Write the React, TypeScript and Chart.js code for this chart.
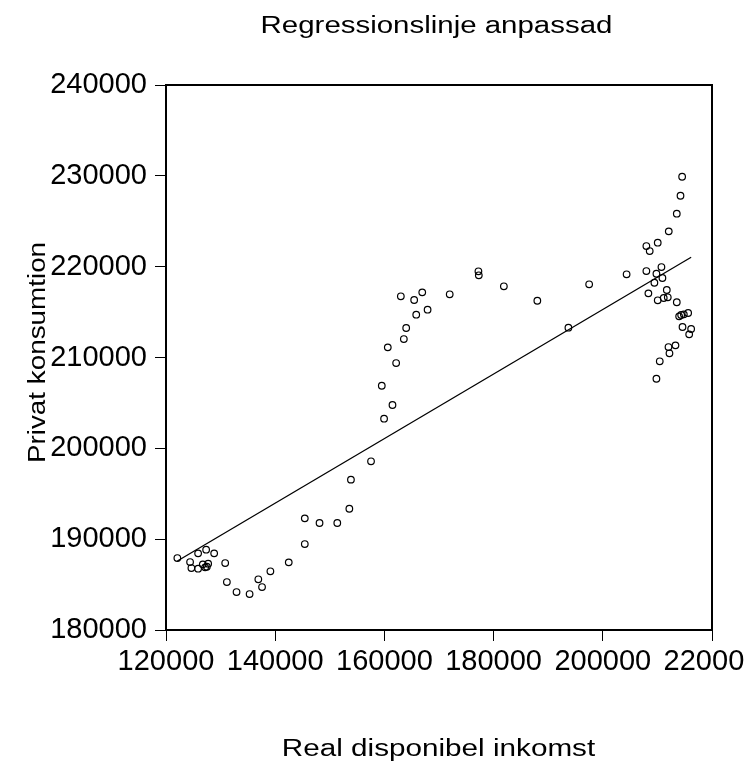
import React, { useEffect, useRef } from "react";
import { Chart, registerables } from "chart.js";

Chart.register(...registerables);

const TITLE = "Regressionslinje anpassad";
const X_TITLE = "Real disponibel inkomst";
const Y_TITLE = "Privat konsumtion";

const X_MIN = 120000;
const X_MAX = 220000;
const X_STEP = 20000;
const Y_MIN = 180000;
const Y_MAX = 240000;
const Y_STEP = 10000;

// Real disponibel inkomst
const incomeValues = [
  122080, 124410, 124650, 125880, 125880, 127350, 126740, 127720, 127170, 127480,
  128820, 130840, 131150, 132920, 135310, 136910, 137590, 139120, 142480, 145420,
  145420, 148120, 151370, 153580, 153870, 157550, 159940, 159520, 161480, 162150,
  160620, 163560, 163990, 165830, 163010, 165450, 166930, 167910, 171960, 177220,
  177290, 181880, 188010, 193700, 197500, 204360, 207980, 208590, 210060, 212080,
  213550, 214230, 214530, 207980, 209820, 210740, 210920, 209450, 208350, 211720,
  210060, 211160, 211900, 213550, 213980, 214350, 214840, 215630, 214600, 216180,
  215820, 213310, 212030, 212210, 210430, 209820,
];

// Privat konsumtion
const consumptionValues = [
  187920, 187480, 186820, 188440, 186750, 188840, 187230, 187300, 186900, 186970,
  188440, 187370, 185280, 184180, 183960, 185580, 184730, 186460, 187450, 192290,
  189460, 191780, 191780, 193350, 196550, 198570, 203260, 206890, 204770, 209390,
  211120, 212030, 213250, 214710, 216740, 216330, 217170, 215260, 216960, 219490,
  219050, 217840, 216250, 213280, 218060, 219160, 222270, 221720, 222640, 223890,
  225830, 227810, 229900, 219520, 219220, 219960, 218750, 218230, 217060, 217430,
  216300, 216550, 216630, 216080, 214530, 214680, 214750, 214900, 213360, 213140,
  212550, 211340, 211150, 210460, 209580, 207660,
];

// Fitted regression line end points
const fitX = [122080, 216180];
const fitY = [187590, 221030];

const FONT = '"Liberation Sans", Arial, Helvetica, sans-serif';

const titlesPlugin = {
  id: "stretchedTitles",
  afterDraw(chart: any) {
    const ctx = chart.ctx;
    const { left, right, top, bottom } = chart.chartArea;
    const cx = (left + right) / 2;
    ctx.save();
    ctx.fillStyle = "#000";
    ctx.font = `23px ${FONT}`;
    ctx.textAlign = "center";
    ctx.textBaseline = "alphabetic";

    ctx.save();
    ctx.translate(cx - 2.5, top - 51.7);
    ctx.scale(1.28, 1);
    ctx.fillText(TITLE, 0, 0);
    ctx.restore();

    ctx.save();
    ctx.translate(cx - 0.5, bottom + 126);
    ctx.scale(1.29, 1);
    ctx.fillText(X_TITLE, 0, 0);
    ctx.restore();

    ctx.save();
    ctx.translate(45, (top + bottom) / 2 - 5);
    ctx.rotate(-Math.PI / 2);
    ctx.scale(1.21, 1);
    ctx.fillText(Y_TITLE, 0, 0);
    ctx.restore();

    // frame
    ctx.strokeStyle = "#000";
    ctx.lineWidth = 2;
    ctx.strokeRect(left, top, right - left, bottom - top);
    ctx.restore();
  },
};

export default function App() {
  const ref = useRef<HTMLCanvasElement | null>(null);

  useEffect(() => {
    document.body.style.margin = "0";
    const canvas = ref.current;
    if (!canvas) return;
    const points = incomeValues.map((x, i) => ({ x, y: consumptionValues[i] }));
    const line = fitX.map((x, i) => ({ x, y: fitY[i] }));
    const chart = new Chart(canvas, {
      type: "scatter",
      data: {
        datasets: [
          {
            data: points,
            pointStyle: "circle",
            pointRadius: 3.3,
            pointBorderWidth: 1.2,
            pointBorderColor: "#000",
            pointBackgroundColor: "rgba(0,0,0,0)",
            showLine: false,
          },
          {
            data: line,
            showLine: true,
            borderColor: "#000",
            borderWidth: 1.3,
            pointRadius: 0,
            fill: false,
          },
        ],
      },
      options: {
        responsive: false,
        animation: false,
        devicePixelRatio: 1,
        layout: { padding: { top: 85, right: 32, bottom: 0, left: 0 } },
        plugins: {
          legend: { display: false },
          title: { display: false },
          tooltip: { enabled: false },
        },
        scales: {
          x: {
            type: "linear",
            min: X_MIN,
            max: X_MAX,
            border: { display: false },
            grid: {
              drawOnChartArea: false,
              drawTicks: true,
              tickLength: 11,
              color: "#000",
              lineWidth: 1,
            },
            ticks: {
              stepSize: X_STEP,
              padding: 4,
              color: "#000",
              maxRotation: 0,
              autoSkip: false,
              font: { family: FONT, size: 29 },
              callback: (v: any) => String(v),
            },
            afterFit: (s: any) => {
              s.height = 132;
              s.paddingLeft = 0;
              s.paddingRight = 0;
            },
          },
          y: {
            type: "linear",
            min: Y_MIN,
            max: Y_MAX,
            border: { display: false },
            grid: {
              drawOnChartArea: false,
              drawTicks: true,
              tickLength: 11,
              color: "#000",
              lineWidth: 1,
            },
            ticks: {
              stepSize: Y_STEP,
              padding: 8,
              color: "#000",
              autoSkip: false,
              font: { family: FONT, size: 29 },
              callback: (v: any) => String(v),
            },
            afterFit: (s: any) => {
              s.width = 166;
              s.paddingTop = 0;
              s.paddingBottom = 0;
            },
          },
        },
      },
      plugins: [titlesPlugin],
    } as any);
    return () => chart.destroy();
  }, []);

  return (
    <div style={{ width: 744, height: 762, background: "#fff" }}>
      <canvas ref={ref} width={744} height={762} style={{ display: "block" }} />
    </div>
  );
}
